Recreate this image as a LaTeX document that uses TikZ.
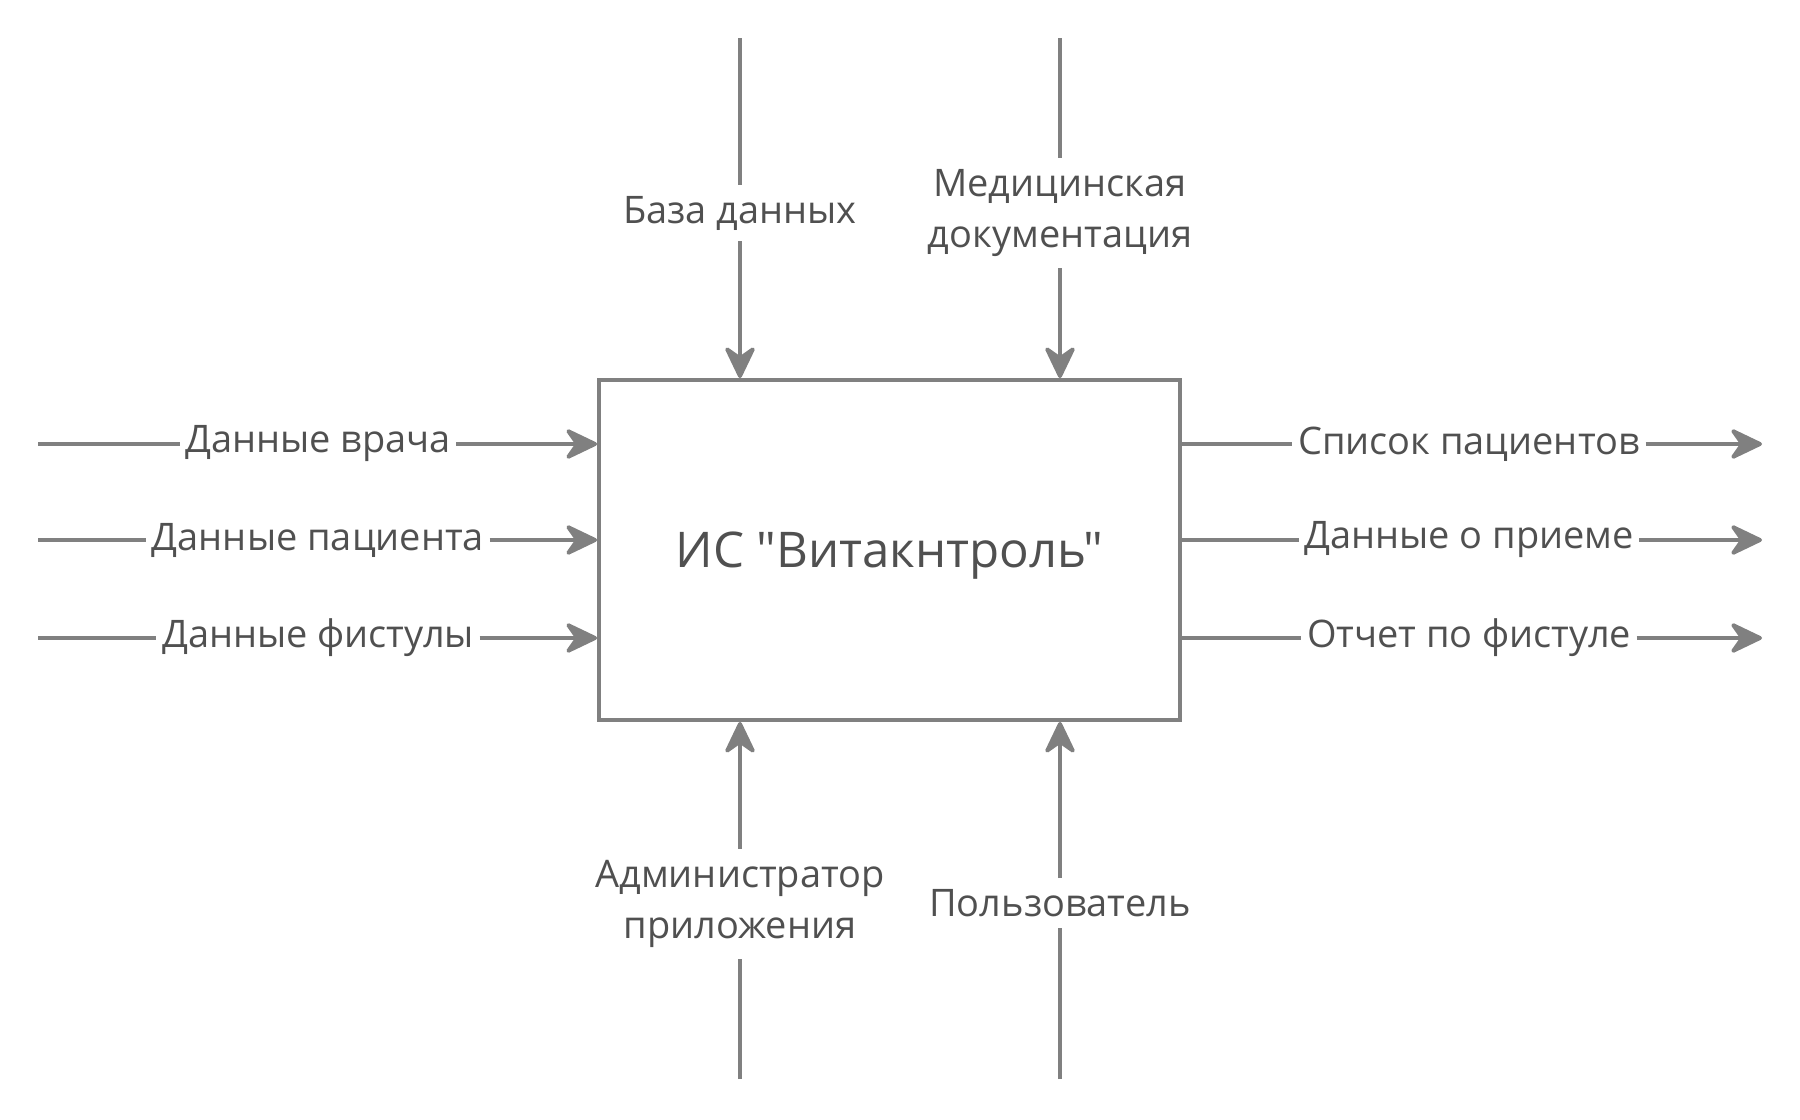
\documentclass[tikz,border=0pt]{standalone}
\usepackage{fontspec}
\setmainfont{Open Sans}
\newfontfamily\diagfont{Open Sans}
\usetikzlibrary{positioning,arrows.meta}
\definecolor{linegray}{HTML}{808080}
\definecolor{textgray}{HTML}{505050}

\begin{document}
\begin{tikzpicture}[
  flow/.style={draw=linegray, line width=1.1pt},
  arr/.style={flow, -{Stealth[length=10.5pt,width=10pt,inset=3.5pt,round]}},
  lbl/.style={text=textgray, font=\diagfont\fontsize{10.8}{14.7}\selectfont, align=center, inner xsep=1.4pt, inner ysep=3pt},
  sysbox/.style={draw=linegray, line width=1.1pt, minimum width=5.81cm, minimum height=3.40cm, text depth=0pt, text=textgray, font=\diagfont\fontsize{14}{17}\selectfont}]

\useasboundingbox (0,0) rectangle (18,-11.2);

\node[sysbox] (sys) at (8.895,-5.50) {ИС "Витакнтроль"};

% controls (top)
\coordinate (ct1) at (7.40,-0.38);
\coordinate (ct2) at (10.60,-0.38);
\node[lbl] (db) at (7.40,-2.13) {База данных};
\node[lbl] (meddoc) at (10.60,-2.13) {Медицинская\\документация};
\draw[flow] (ct1) -- (db);
\draw[arr] (db) -- (db |- sys.north);
\draw[flow] (ct2) -- (meddoc);
\draw[arr] (meddoc) -- (meddoc |- sys.north);

% mechanisms (bottom)
\coordinate (mb1) at (7.40,-10.79);
\coordinate (mb2) at (10.60,-10.79);
\node[lbl] (admin) at (7.40,-9.04) {Администратор\\приложения};
\node[lbl] (user) at (10.60,-9.03) {Пользователь};
\draw[flow] (mb1) -- (admin);
\draw[arr] (admin) -- (admin |- sys.south);
\draw[flow] (mb2) -- (user);
\draw[arr] (user) -- (user |- sys.south);

% inputs (left)
\coordinate (in1) at (0.38,-4.44);
\coordinate (in2) at (0.38,-5.40);
\coordinate (in3) at (0.38,-6.38);
\node[lbl] (doctor) at (3.18,-4.44) {Данные врача};
\node[lbl] (patient) at (3.18,-5.40) {Данные пациента};
\node[lbl] (fistin) at (3.18,-6.38) {Данные фистулы};
\draw[flow] (in1) -- (doctor);
\draw[arr] (doctor) -- (doctor -| sys.west);
\draw[flow] (in2) -- (patient);
\draw[arr] (patient) -- (patient -| sys.west);
\draw[flow] (in3) -- (fistin);
\draw[arr] (fistin) -- (fistin -| sys.west);

% outputs (right)
\coordinate (out1) at (17.62,-4.44);
\coordinate (out2) at (17.62,-5.40);
\coordinate (out3) at (17.62,-6.38);
\node[lbl] (plist) at (14.69,-4.44) {Список пациентов};
\node[lbl] (visit) at (14.69,-5.40) {Данные о приеме};
\node[lbl] (report) at (14.69,-6.38) {Отчет по фистуле};
\draw[flow] (plist -| sys.east) -- (plist);
\draw[arr] (plist) -- (out1);
\draw[flow] (visit -| sys.east) -- (visit);
\draw[arr] (visit) -- (out2);
\draw[flow] (report -| sys.east) -- (report);
\draw[arr] (report) -- (out3);

\end{tikzpicture}
\end{document}
